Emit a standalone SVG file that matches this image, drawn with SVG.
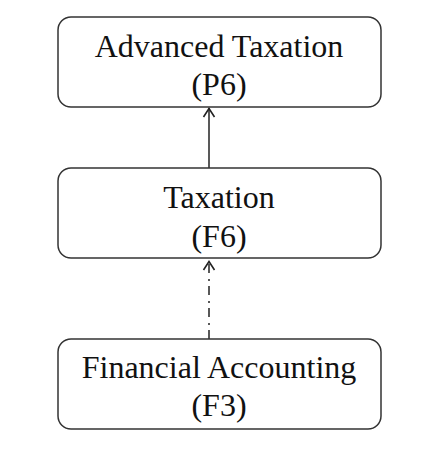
<svg xmlns="http://www.w3.org/2000/svg" width="422" height="456" viewBox="0 0 422 456">
<style>
.box{fill:#fff;stroke:#333;stroke-width:1.5}
.lbl{font-family:"Liberation Serif","Times New Roman",serif;font-size:32px;fill:#111;text-anchor:middle}
.edge{fill:none;stroke:#222;stroke-width:1.5}
.head{fill:none;stroke:#222;stroke-width:1.6;stroke-linejoin:miter}
</style>
<rect width="422" height="456" fill="#fff"/>
<g id="connectors">
<path class="edge" d="M209,168 L209,108"/>
<path class="head" d="M203.5,117 L209,108.5 L214.5,117"/>
<path class="edge" d="M209,339 L209,263" stroke-width="2" stroke-dasharray="9 5 2 6"/>
<path class="head" d="M203.5,270 L209,261.5 L214.5,270" stroke-width="2"/>
</g>
<g id="node-p6">
<rect class="box" x="58" y="17" width="323" height="90" rx="13"/>
<text class="lbl" x="219" y="57">Advanced Taxation</text>
<text class="lbl" x="219" y="95">(P6)</text>
</g>
<g id="node-f6">
<rect class="box" x="58" y="168" width="323" height="90" rx="13"/>
<text class="lbl" x="219" y="208">Taxation</text>
<text class="lbl" x="219" y="247">(F6)</text>
</g>
<g id="node-f3">
<rect class="box" x="58" y="339" width="323" height="90" rx="13"/>
<text class="lbl" x="219" y="378">Financial Accounting</text>
<text class="lbl" x="219" y="416">(F3)</text>
</g>
</svg>
